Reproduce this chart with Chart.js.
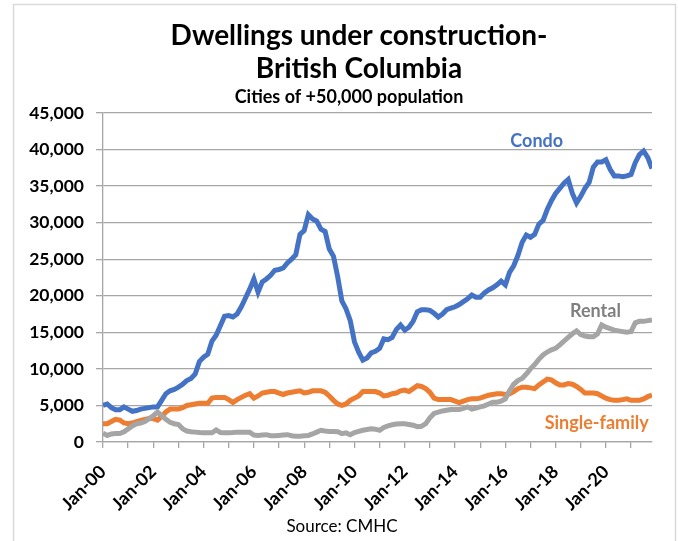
<!DOCTYPE html>
<html>
<head>
<meta charset="utf-8">
<script src="https://cdn.jsdelivr.net/npm/chart.js@4/dist/chart.umd.min.js"></script>
<style>
  html, body { margin: 0; padding: 0; background: #fff; }
  #wrap { width: 679px; height: 541px; position: relative; }
</style>
</head>
<body>
<div id="wrap"><canvas id="chart"></canvas></div>
<script>
// monthly series sampled every 2 months, Jan-00 .. Nov-21
const monthStep = 2;
const tickLabels = ["Jan-00", "Jan-02", "Jan-04", "Jan-06", "Jan-08", "Jan-10",
  "Jan-12", "Jan-14", "Jan-16", "Jan-18", "Jan-20"];

const condo = [
  5000, 5200, 4700, 4400, 4400, 4800, 4500, 4200, 4300, 4500,
  4600, 4700, 4800, 4800, 5700, 6600, 7000, 7200, 7500, 7900,
  8400, 8700, 9300, 11000, 11600, 12000, 13800, 14600, 15900, 17200,
  17300, 17100, 17500, 18500, 19700, 20900, 22300, 20500, 21900, 22300,
  22800, 23500, 23600, 23800, 24500, 25000, 25600, 28400, 28900, 31100,
  30500, 30200, 29100, 28800, 26400, 25400, 22600, 19300, 18200, 16600,
  13700, 12300, 11200, 11500, 12200, 12400, 12800, 14100, 14000, 14300,
  15400, 16000, 15300, 15700, 16500, 17800, 18100, 18100, 18000, 17600,
  17100, 17500, 18100, 18300, 18500, 18800, 19200, 19600, 20100, 19800,
  19800, 20400, 20800, 21100, 21500, 22000, 21500, 23200, 24100, 25500,
  27300, 28300, 28000, 28400, 29800, 30300, 31800, 33000, 34000, 34700,
  35400, 35900, 34000, 32700, 33600, 34700, 35500, 37600, 38300, 38300,
  38600, 37300, 36400, 36400, 36300, 36400, 36600, 38200, 39300, 39800,
  38900, 37400
];

const singleFamily = [
  2500, 2500, 2800, 3100, 3000, 2600, 2500, 2600, 2800, 2950,
  3100, 3200, 3200, 3000, 3500, 4100, 4500, 4500, 4500, 4700,
  5000, 5100, 5200, 5300, 5300, 5300, 6000, 6100, 6100, 6100,
  5800, 5400, 5800, 6100, 6400, 6600, 6000, 6300, 6700, 6800,
  6900, 6900, 6700, 6500, 6700, 6800, 6900, 7000, 6700, 6800,
  7000, 7000, 7000, 6800, 6300, 5700, 5200, 5000, 5200, 5700,
  6000, 6300, 6900, 6900, 6900, 6900, 6700, 6300, 6400, 6600,
  6700, 7000, 7100, 6900, 7300, 7700, 7600, 7300, 6800, 6000,
  5800, 5800, 5800, 5800, 5600, 5400, 5600, 5800, 5900, 5900,
  6000, 6200, 6400, 6500, 6600, 6600, 6500, 6600, 6900, 7300,
  7500, 7500, 7400, 7300, 7800, 8200, 8600, 8500, 8100, 7800,
  7800, 8000, 7900, 7600, 7200, 6700, 6700, 6700, 6600, 6300,
  6000, 5800, 5700, 5700, 5800, 5900, 5700, 5700, 5700, 5900,
  6200, 6400
];

const rental = [
  1200, 900, 1100, 1150, 1150, 1400, 1800, 2200, 2500, 2600,
  2800, 3200, 3600, 4100, 3600, 3100, 2700, 2500, 2400, 1800,
  1500, 1400, 1350, 1300, 1270, 1270, 1270, 1650, 1300, 1270,
  1270, 1300, 1350, 1350, 1350, 1350, 950, 900, 950, 1000,
  850, 850, 900, 950, 1000, 850, 800, 800, 850, 900,
  1100, 1350, 1600, 1500, 1450, 1450, 1400, 1150, 1250, 1000,
  1300, 1450, 1600, 1700, 1800, 1750, 1600, 2000, 2200, 2350,
  2450, 2500, 2500, 2400, 2300, 2100, 2150, 2500, 3300, 3900,
  4100, 4250, 4350, 4450, 4450, 4450, 4600, 4800, 4500, 4650,
  4800, 4950, 5200, 5450, 5450, 5600, 5900, 7000, 7900, 8400,
  8700, 9300, 10000, 10600, 11300, 11900, 12300, 12600, 12800, 13300,
  13800, 14300, 14800, 15200, 14700, 14500, 14400, 14400, 14800, 16000,
  15700, 15500, 15300, 15200, 15100, 15000, 15100, 16300, 16500, 16500,
  16600, 16700
];

const BLUE = "#4472c4", ORANGE = "#ed7d31", GRAY = "#a5a5a5";
const FONT = "Lato, 'Open Sans', sans-serif";

function toPoints(arr) {
  return arr.map((v, i) => ({ x: i * monthStep, y: v }));
}

// inline series labels, anchored in data units
const seriesLabels = [
  { text: "Condo", month: 207, value: 41100, color: BLUE },
  { text: "Rental", month: 235, value: 17900, color: "#7f7f7f" },
  { text: "Single-family", month: 235.6, value: 2600, color: ORANGE }
];

const decorPlugin = {
  id: "decor",
  beforeDraw(chart) {
    const ctx = chart.ctx;
    ctx.save();
    ctx.fillStyle = "#fff";
    ctx.fillRect(0, 0, chart.width, chart.height);
    ctx.strokeStyle = "#d9d9d9";
    ctx.lineWidth = 1.5;
    ctx.strokeRect(13.5, 4.5, 662, 560);
    ctx.restore();
  },
  afterDraw(chart) {
    const ctx = chart.ctx;
    const xs = chart.scales.x, ys = chart.scales.y;
    ctx.save();
    ctx.textAlign = "center";
    ctx.textBaseline = "middle";
    ctx.fillStyle = "#000";
    ctx.font = "bold 28px " + FONT;
    ctx.fillText("Dwellings under construction-", 359, 36);
    ctx.fillText("British Columbia", 359, 69);
    ctx.font = "bold 18px " + FONT;
    ctx.fillText("Cities of +50,000 population", 349, 97);
    ctx.font = "17px " + FONT;
    ctx.fillText("Source: CMHC", 342, 527);
    ctx.font = "bold 18px " + FONT;
    seriesLabels.forEach(l => {
      ctx.fillStyle = l.color;
      ctx.fillText(l.text, xs.getPixelForValue(l.month), ys.getPixelForValue(l.value));
    });
    ctx.restore();
  }
};

new Chart(document.getElementById("chart"), {
  type: "line",
  data: {
    datasets: [
      { label: "Rental", data: toPoints(rental), borderColor: GRAY },
      { label: "Single-family", data: toPoints(singleFamily), borderColor: ORANGE },
      { label: "Condo", data: toPoints(condo), borderColor: BLUE }
    ].map(d => Object.assign(d, { borderWidth: 5, pointRadius: 0, tension: 0, fill: false }))
  },
  options: {
    responsive: true,
    maintainAspectRatio: false,
    animation: false,
    layout: { padding: { top: 113, right: 27, bottom: 0, left: 0 } },
    plugins: { legend: { display: false }, tooltip: { enabled: false } },
    scales: {
      x: {
        type: "linear",
        min: 0,
        max: 262,
        afterFit(scale) { scale.height = 99; },
        afterBuildTicks(scale) {
          const t = [];
          for (let m = 0; m <= 262; m += 12) t.push({ value: m });
          scale.ticks = t;
        },
        ticks: {
          autoSkip: false,
          maxRotation: 45,
          minRotation: 45,
          padding: 13,
          color: "#000",
          font: { family: FONT, size: 18, weight: "bold" },
          callback(v) {
            return v % 24 === 0 ? tickLabels[v / 24] : "";
          }
        },
        grid: { drawOnChartArea: false, drawTicks: true, tickLength: 6, color: "#a6a6a6", lineWidth: 1.3 },
        border: { display: true, color: "#a6a6a6", width: 1.3 }
      },
      y: {
        min: 0,
        max: 45000,
        afterFit(scale) { scale.width = 103; },
        ticks: {
          stepSize: 5000,
          padding: 12,
          color: "#000",
          font: { family: FONT, size: 17.5, weight: "bold" },
          callback(v) { return v.toLocaleString("en-US"); }
        },
        grid: { color: "#a6a6a6", lineWidth: 1.3, tickLength: 7 },
        border: { display: true, color: "#a6a6a6", width: 1.3 }
      }
    }
  },
  plugins: [decorPlugin]
});
</script>
</body>
</html>
